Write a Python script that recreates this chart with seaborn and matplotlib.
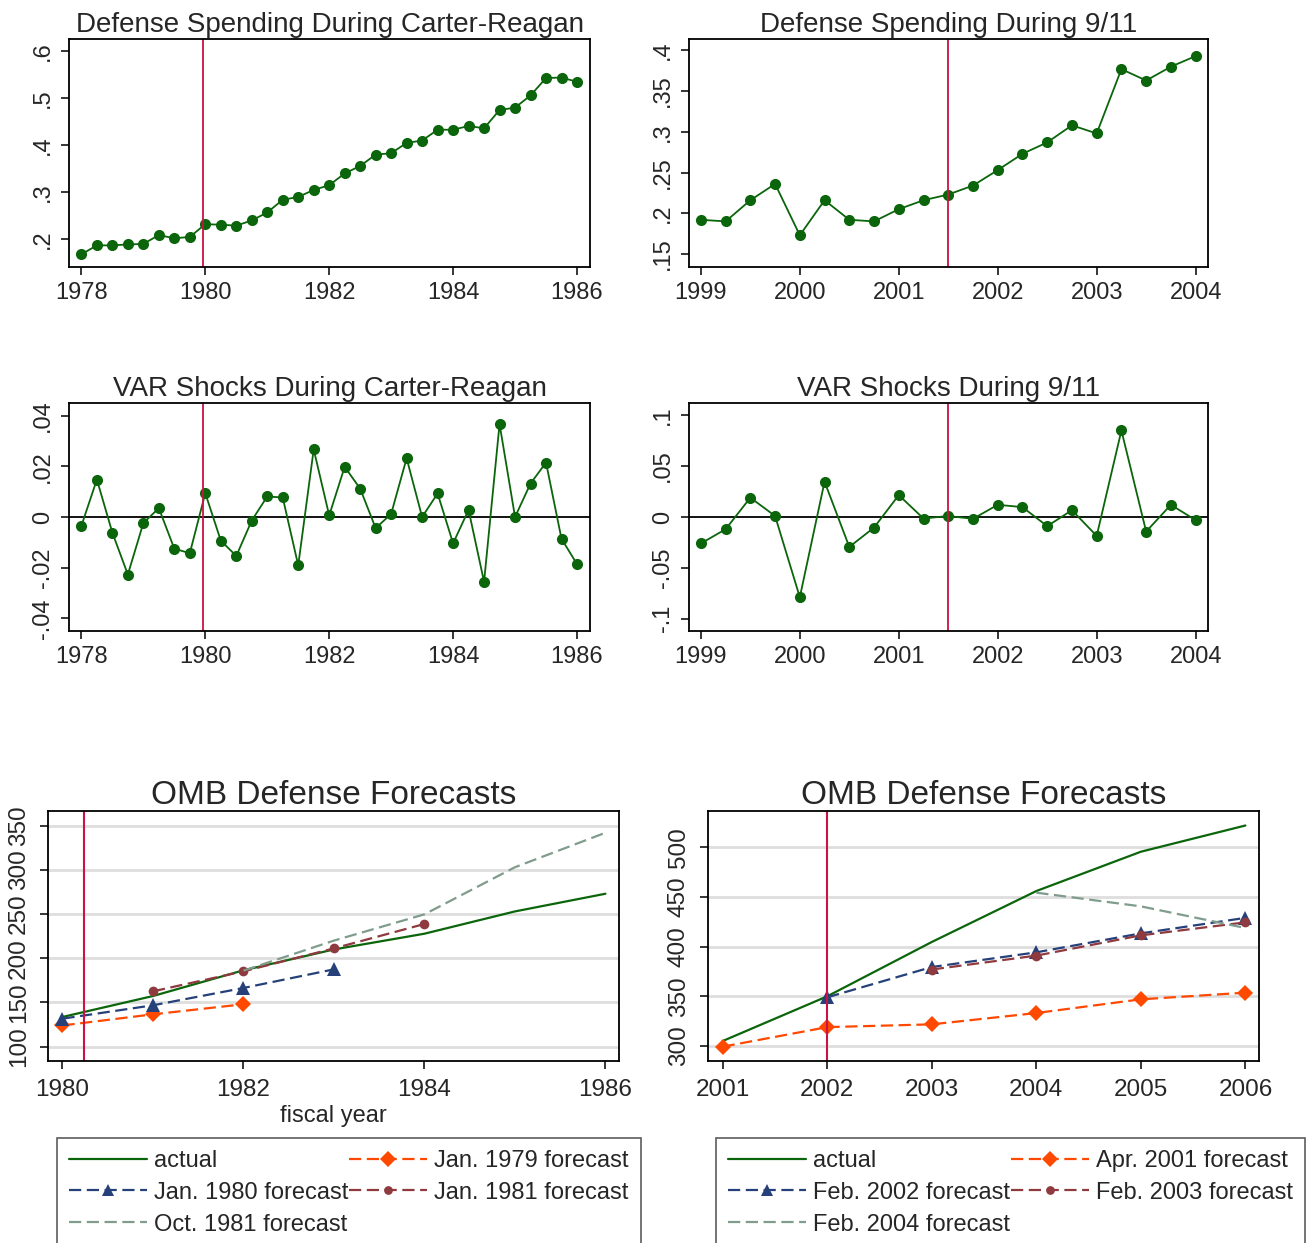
import numpy as np
import matplotlib
matplotlib.use("Agg")
import matplotlib.pyplot as plt
import seaborn as sns

sns.set_style("ticks")
plt.rcParams["font.family"] = ["Liberation Sans", "DejaVu Sans"]

# --- quarterly defense spending / VAR shocks, Carter-Reagan (1978Q1-1986Q1)
cr_spending = [0.167, 0.186, 0.186, 0.188, 0.189, 0.208, 0.201, 0.204, 0.231, 0.230, 0.228,
               0.239, 0.256, 0.283, 0.289, 0.304, 0.314, 0.339, 0.355, 0.379, 0.382, 0.404,
               0.409, 0.432, 0.432, 0.440, 0.435, 0.474, 0.479, 0.505, 0.542, 0.543, 0.534]
cr_shocks = [-0.0035, 0.0148, -0.0062, -0.0227, -0.0024, 0.0035, -0.0125, -0.0143, 0.0094,
             -0.0093, -0.0154, -0.0014, 0.0081, 0.0077, -0.0191, 0.0267, 0.0006, 0.0198,
             0.0112, -0.0044, 0.0012, 0.0232, 0.0000, 0.0093, -0.0104, 0.0028, -0.0256,
             0.0367, 0.0000, 0.0132, 0.0215, -0.0086, -0.0186]
cr_start = 1978

# --- quarterly defense spending / VAR shocks, 9/11 (1999Q1-2004Q1)
nine_spending = [0.192, 0.190, 0.216, 0.236, 0.173, 0.216, 0.192, 0.190, 0.205, 0.216, 0.223,
                 0.234, 0.253, 0.273, 0.287, 0.308, 0.298, 0.377, 0.363, 0.380, 0.393]
nine_shocks = [-0.026, -0.012, 0.019, 0.001, -0.0788, 0.0347, -0.0294, -0.0104, 0.0215,
               -0.0015, 0.001, -0.0018, 0.012, 0.0097, -0.009, 0.0067, -0.0186, 0.085,
               -0.0143, 0.012, -0.0031]
nine_start = 1999

# --- OMB forecasts, Carter-Reagan
omb80_years = [1980, 1981, 1982, 1983, 1984, 1985, 1986]
omb80_actual = [133.6, 157.3, 186.4, 210.0, 227.8, 253.0, 273.0]
jan79_years = [1980, 1981, 1982]
jan79_fc = [124.0, 136.6, 148.0]
jan80_years = [1980, 1981, 1982, 1983]
jan80_fc = [131.7, 146.8, 166.4, 187.5]
jan81_years = [1981, 1982, 1983, 1984]
jan81_fc = [162.6, 185.2, 211.2, 238.8]
oct81_years = [1982, 1983, 1984, 1985, 1986]
oct81_fc = [186.0, 220.0, 249.7, 303.0, 342.0]

# --- OMB forecasts, 9/11
omb01_years = [2001, 2002, 2003, 2004, 2005, 2006]
omb01_actual = [305.0, 350.0, 404.7, 456.0, 495.6, 522.0]
apr01_years = [2001, 2002, 2003, 2004, 2005, 2006]
apr01_fc = [299.3, 319.0, 321.8, 333.2, 347.0, 353.7]
feb02_years = [2002, 2003, 2004, 2005, 2006]
feb02_fc = [349.0, 379.5, 394.3, 413.4, 429.0]
feb03_years = [2003, 2004, 2005, 2006]
feb03_fc = [377.0, 391.0, 411.4, 424.5]
feb04_years = [2004, 2005, 2006]
feb04_fc = [454.4, 440.6, 418.8]

GREEN = "#0b650b"
RED = "#cc1144"
ORANGE = "#ff4800"
NAVY = "#26417a"
MAROON = "#8f3a3f"
GRAYGREEN = "#7f9c8c"
DASH = (0, (5.5, 2.5))

W, H = 1310, 1243
fig = plt.figure(figsize=(W / 100, H / 100), dpi=100)


def px_axes(x0, y0, x1, y1):
    return fig.add_axes([x0 / W, 1 - y1 / H, (x1 - x0) / W, (y1 - y0) / H])


def style(ax, title, xlim, xticks, ylim, yticks, ylabels, title_size=20, tick_size=17, pad=5):
    ax.set_xlim(xlim)
    ax.set_ylim(ylim)
    ax.set_xticks(xticks)
    ax.set_xticklabels([str(t) for t in xticks], fontsize=tick_size)
    ax.set_yticks(yticks)
    ax.set_yticklabels(ylabels, rotation=90, va="center", fontsize=tick_size)
    ax.tick_params(direction="out", length=6, width=1.1, color="black", pad=pad)
    for s in ax.spines.values():
        s.set_visible(True)
        s.set_linewidth(1.3)
        s.set_color("black")
    ax.set_title(title, fontsize=title_size, pad=5)
    ax.set_xlabel("")
    ax.set_ylabel("")


def quarterly(start, values):
    return start + np.arange(len(values)) / 4


# top row: spending
ax = px_axes(69, 39, 590, 267)
sns.lineplot(x=quarterly(cr_start, cr_spending), y=cr_spending, ax=ax, color=GREEN,
             marker="o", markersize=8, markeredgewidth=0, lw=1.3)
ax.axvline(1979.97, color=RED, lw=1.3)
style(ax, "Defense Spending During Carter-Reagan", (1977.8, 1986.21), [1978, 1980, 1982, 1984, 1986],
      (0.14, 0.625), [0.2, 0.3, 0.4, 0.5, 0.6], [".2", ".3", ".4", ".5", ".6"])

ax = px_axes(689, 39, 1208, 267)
sns.lineplot(x=quarterly(nine_start, nine_spending), y=nine_spending, ax=ax, color=GREEN,
             marker="o", markersize=8, markeredgewidth=0, lw=1.3)
ax.axvline(2001.5, color=RED, lw=1.3)
style(ax, "Defense Spending During 9/11", (1998.88, 2004.125), [1999, 2000, 2001, 2002, 2003, 2004],
      (0.134, 0.414), [0.15, 0.2, 0.25, 0.3, 0.35, 0.4], [".15", ".2", ".25", ".3", ".35", ".4"])

# middle row: VAR shocks
ax = px_axes(69, 403, 590, 631)
ax.axhline(0, color="black", lw=1.3)
sns.lineplot(x=quarterly(cr_start, cr_shocks), y=cr_shocks, ax=ax, color=GREEN,
             marker="o", markersize=8, markeredgewidth=0, lw=1.3)
ax.axvline(1979.97, color=RED, lw=1.3)
style(ax, "VAR Shocks During Carter-Reagan", (1977.8, 1986.21), [1978, 1980, 1982, 1984, 1986],
      (-0.045, 0.045), [-0.04, -0.02, 0, 0.02, 0.04], ["-.04", "-.02", "0", ".02", ".04"])

ax = px_axes(689, 403, 1208, 631)
ax.axhline(0, color="black", lw=1.3)
sns.lineplot(x=quarterly(nine_start, nine_shocks), y=nine_shocks, ax=ax, color=GREEN,
             marker="o", markersize=8, markeredgewidth=0, lw=1.3)
ax.axvline(2001.5, color=RED, lw=1.3)
style(ax, "VAR Shocks During 9/11", (1998.88, 2004.125), [1999, 2000, 2001, 2002, 2003, 2004],
      (-0.112, 0.112), [-0.1, -0.05, 0, 0.05, 0.1], ["-.1", "-.05", "0", ".05", ".1"])


def forecast_panel(ax, series):
    ax.yaxis.grid(True, color="#dedede", lw=2)
    ax.set_axisbelow(True)
    for years, vals, color, marker, ms, ls, label in series:
        sns.lineplot(x=years, y=vals, ax=ax, color=color, marker=marker, markersize=ms,
                     markeredgewidth=0, lw=1.6, linestyle=ls, label=label)
    if ax.get_legend() is not None:
        ax.get_legend().remove()


def add_legend(ax, x0):
    handles, labels = ax.get_legend_handles_labels()
    order = [0, 2, 4, 1, 3]
    leg = fig.legend([handles[i] for i in order], [labels[i] for i in order],
                     loc="upper left", bbox_to_anchor=(x0 / W, 1 - 1138 / H), ncol=2,
                     frameon=True, fancybox=False, edgecolor="#333333", fontsize=17,
                     handlelength=3.3, handletextpad=0.3, columnspacing=0.05,
                     labelspacing=0.42, borderpad=0.5, borderaxespad=0, markerscale=0.9)
    leg.get_frame().set_linewidth(1.2)


# bottom row: OMB forecasts
ax = px_axes(48, 811, 619, 1061)
forecast_panel(ax, [
    (omb80_years, omb80_actual, GREEN, None, 0, "-", "actual"),
    (jan79_years, jan79_fc, ORANGE, "D", 8.5, DASH, "Jan. 1979 forecast"),
    (jan80_years, jan80_fc, NAVY, "^", 9.5, DASH, "Jan. 1980 forecast"),
    (jan81_years, jan81_fc, MAROON, "o", 7, DASH, "Jan. 1981 forecast"),
    (oct81_years, oct81_fc, GRAYGREEN, None, 0, DASH, "Oct. 1981 forecast"),
])
ax.axvline(1980.24, color=RED, lw=1.5)
style(ax, "OMB Defense Forecasts", (1979.84, 1986.15), [1980, 1982, 1984, 1986],
      (83.8, 366.6), [100, 150, 200, 250, 300, 350], ["100", "150", "200", "250", "300", "350"],
      title_size=24, tick_size=17.5, pad=7)
ax.set_xlabel("fiscal year", fontsize=17, labelpad=3)
add_legend(ax, 57)

ax = px_axes(708, 811, 1259, 1061)
forecast_panel(ax, [
    (omb01_years, omb01_actual, GREEN, None, 0, "-", "actual"),
    (apr01_years, apr01_fc, ORANGE, "D", 8.5, DASH, "Apr. 2001 forecast"),
    (feb02_years, feb02_fc, NAVY, "^", 9.5, DASH, "Feb. 2002 forecast"),
    (feb03_years, feb03_fc, MAROON, "o", 7, DASH, "Feb. 2003 forecast"),
    (feb04_years, feb04_fc, GRAYGREEN, None, 0, DASH, "Feb. 2004 forecast"),
])
ax.axvline(2002, color=RED, lw=1.5)
style(ax, "OMB Defense Forecasts", (2000.86, 2006.13), [2001, 2002, 2003, 2004, 2005, 2006],
      (284.9, 536.6), [300, 350, 400, 450, 500], ["300", "350", "400", "450", "500"],
      title_size=24, tick_size=17.5, pad=7)
add_legend(ax, 716)

fig.savefig("out.png", dpi=100)
